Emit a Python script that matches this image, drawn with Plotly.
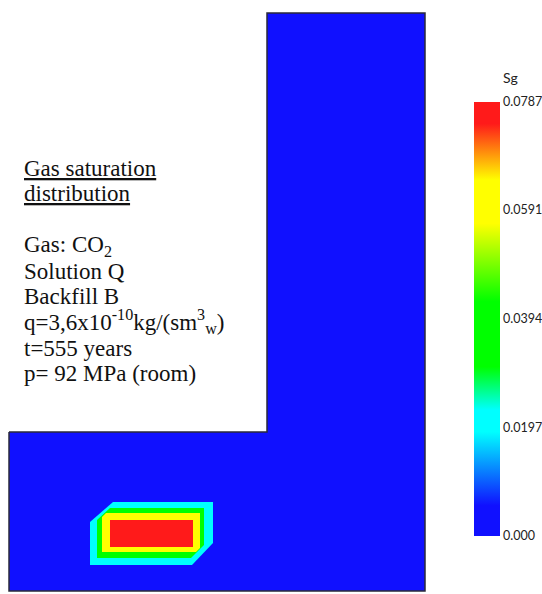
import plotly.graph_objects as go
from plotly.colors import sample_colorscale

# ---------------- data ----------------
# Sg colour scale limits and colour bar ticks
sg_min = 0.0
sg_max = 0.0787
tick_values = [0.0, 0.0197, 0.0394, 0.0591, 0.0787]
tick_labels = ["0.000", "0.0197", "0.0394", "0.0591", "0.0787"]

# model geometry (x to the right, y up), L-shaped domain
domain_x = [0, 258, 258, 416, 416, 0, 0]
domain_y = [159, 159, 578, 578, 0, 0, 159]
domain_sg = 0.0

# gas plume bands (outer boundary of each iso-band) and their Sg level
cyan_x = [81, 104, 204, 204, 183, 81, 81]
cyan_y = [69, 89, 89, 48, 26, 26, 69]
cyan_sg = 0.0197

green_x = [88, 101, 195, 195, 182, 88, 88]
green_y = [71, 83, 83, 46, 33, 33, 71]
green_sg = 0.0394

yellow_x = [93, 97, 191, 191, 187, 93, 93]
yellow_y = [74, 78, 78, 43, 39, 39, 74]
yellow_sg = 0.0591

red_x = [101, 184, 184, 101, 101]
red_y = [71, 71, 44, 44, 71]
red_sg = 0.0787

info_lines = [
    "<u>Gas saturation</u>",
    "<u>distribution</u>",
    "Gas: CO<sub>2</sub>",
    "Solution Q",
    "Backfill B",
    "q=3,6x10<sup>-10</sup>kg/(sm<sup>3</sup><sub>w</sub>)",
    "t=555 years",
    "p= 92 MPa (room)",
]

# ---------------- styling ----------------
W, H = 542, 594
SERIF = "Times New Roman"
colorscale = [
    [0.0, "#1010ff"], [0.07, "#1010ff"], [0.24, "#00ffff"], [0.29, "#00ffff"],
    [0.39, "#00ff00"], [0.54, "#00ff00"], [0.72, "#ffff00"], [0.82, "#ffff00"],
    [0.95, "#ff1a1a"], [1.0, "#ff1a1a"],
]


def col(v):
    return sample_colorscale(colorscale, [(v - sg_min) / (sg_max - sg_min)])[0]


fig = go.Figure()

fig.add_trace(go.Scatter(
    x=domain_x, y=domain_y, mode="lines", fill="toself",
    fillcolor=col(domain_sg), line=dict(color="#2a2a3a", width=1.5),
    hoverinfo="skip", showlegend=False))

for bx, by, v in [(cyan_x, cyan_y, cyan_sg), (green_x, green_y, green_sg),
                  (yellow_x, yellow_y, yellow_sg), (red_x, red_y, red_sg)]:
    fig.add_trace(go.Scatter(
        x=bx, y=by, mode="lines", fill="toself", fillcolor=col(v),
        line=dict(width=0, color=col(v)), hoverinfo="skip", showlegend=False))

# colour bar carrier
fig.add_trace(go.Scatter(
    x=[200], y=[300], mode="markers",
    marker=dict(size=1, opacity=0, color=[0.0], cmin=sg_min, cmax=sg_max,
                colorscale=colorscale, showscale=True,
                colorbar=dict(
                    x=474 / W, xanchor="left", xpad=0,
                    y=1 - 319 / H, yanchor="middle", ypad=0,
                    len=434, lenmode="pixels", thickness=26,
                    thicknessmode="pixels", outlinewidth=0,
                    tickvals=tick_values, ticktext=tick_labels, ticks="",
                    tickfont=dict(family="Lato", size=12.5, color="#222"),
                )),
    hoverinfo="skip", showlegend=False))

# axes map model units onto the page
fig.update_xaxes(range=[-9, 533], visible=False, fixedrange=True)
fig.update_yaxes(range=[-3, 591], visible=False, fixedrange=True)

annotations = [dict(
    text="Sg", xref="paper", yref="paper", x=501 / W, y=1 - 77 / H,
    xanchor="left", yanchor="middle", showarrow=False,
    font=dict(family="Lato", size=14, color="#222"))]

baselines = [175, 200, 253, 278, 303, 328, 355, 380]
for txt, b in zip(info_lines, baselines):
    annotations.append(dict(
        text=txt, xref="paper", yref="paper", x=22 / W, y=1 - (b - 7) / H,
        xanchor="left", yanchor="middle", showarrow=False, align="left",
        font=dict(family=SERIF, size=23, color="#111")))

fig.update_layout(
    width=W, height=H,
    margin=dict(l=0, r=0, t=0, b=0, pad=0, autoexpand=False),
    paper_bgcolor="white", plot_bgcolor="white",
    annotations=annotations,
)

fig.write_html("out.html")
